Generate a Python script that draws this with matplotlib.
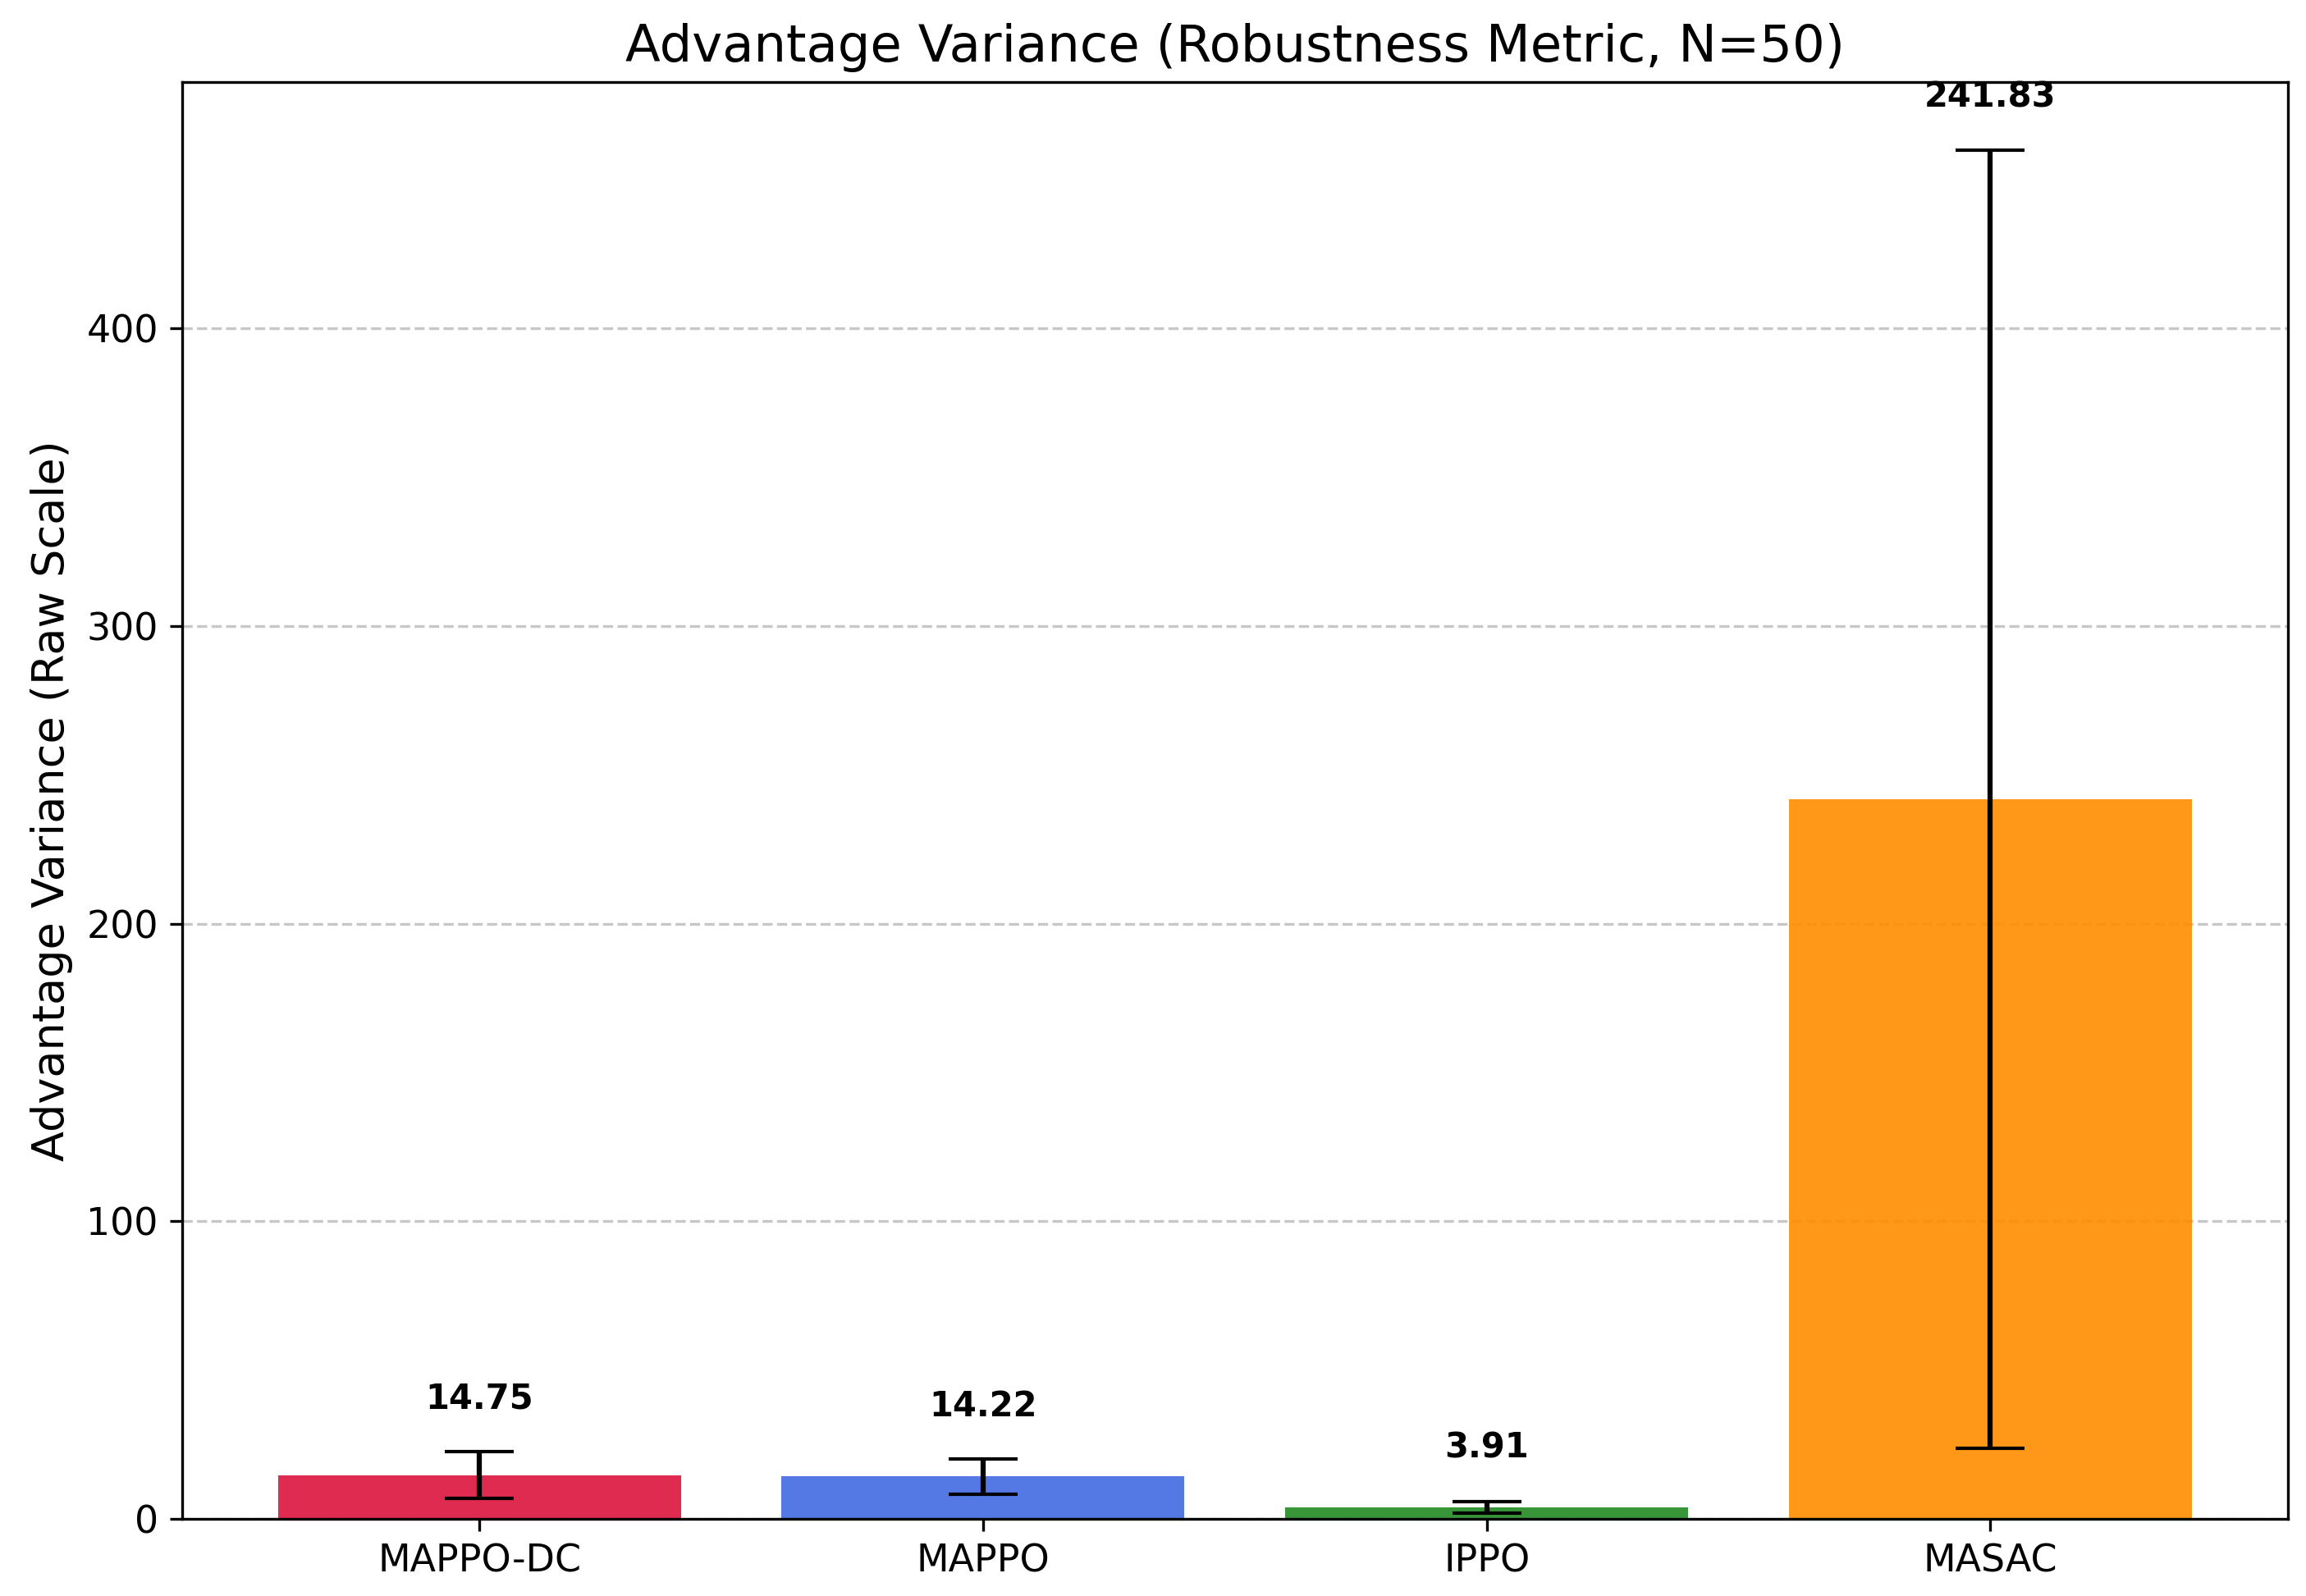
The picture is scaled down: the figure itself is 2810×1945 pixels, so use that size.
import matplotlib
matplotlib.use('Agg')
import matplotlib.pyplot as plt

# дані графіка
algorithms = ['MAPPO-DC', 'MAPPO', 'IPPO', 'MASAC']
variance_mean = [14.75, 14.22, 3.91, 241.83]
variance_err = [7.8, 5.8, 2.0, 218.0]
bar_colors = ['crimson', 'royalblue', 'forestgreen', 'darkorange']

fig, ax = plt.subplots(figsize=(2810 / 300, 1945 / 300), dpi=300)
fig.subplots_adjust(left=0.079, right=0.992, top=0.9486, bottom=0.0483)

bars = ax.bar(algorithms, variance_mean, yerr=variance_err, capsize=10,
              color=bar_colors, alpha=0.9, ecolor='black')

# підписи значень над стовпчиками
offset = max(variance_mean) * 0.05
for bar, mean, err in zip(bars, variance_mean, variance_err):
    ax.text(bar.get_x() + bar.get_width() / 2, mean + err + offset,
            f'{mean:.2f}', ha='center', va='bottom', fontweight='bold', fontsize=10)

ax.set_title('Advantage Variance (Robustness Metric, N=50)', fontsize=15)
ax.set_ylabel('Advantage Variance (Raw Scale)', fontsize=13)
ax.tick_params(axis='both', labelsize=11)
ax.grid(axis='y', linestyle='--', alpha=0.7)
ax.set_axisbelow(True)

fig.savefig('out.png', dpi=300)
